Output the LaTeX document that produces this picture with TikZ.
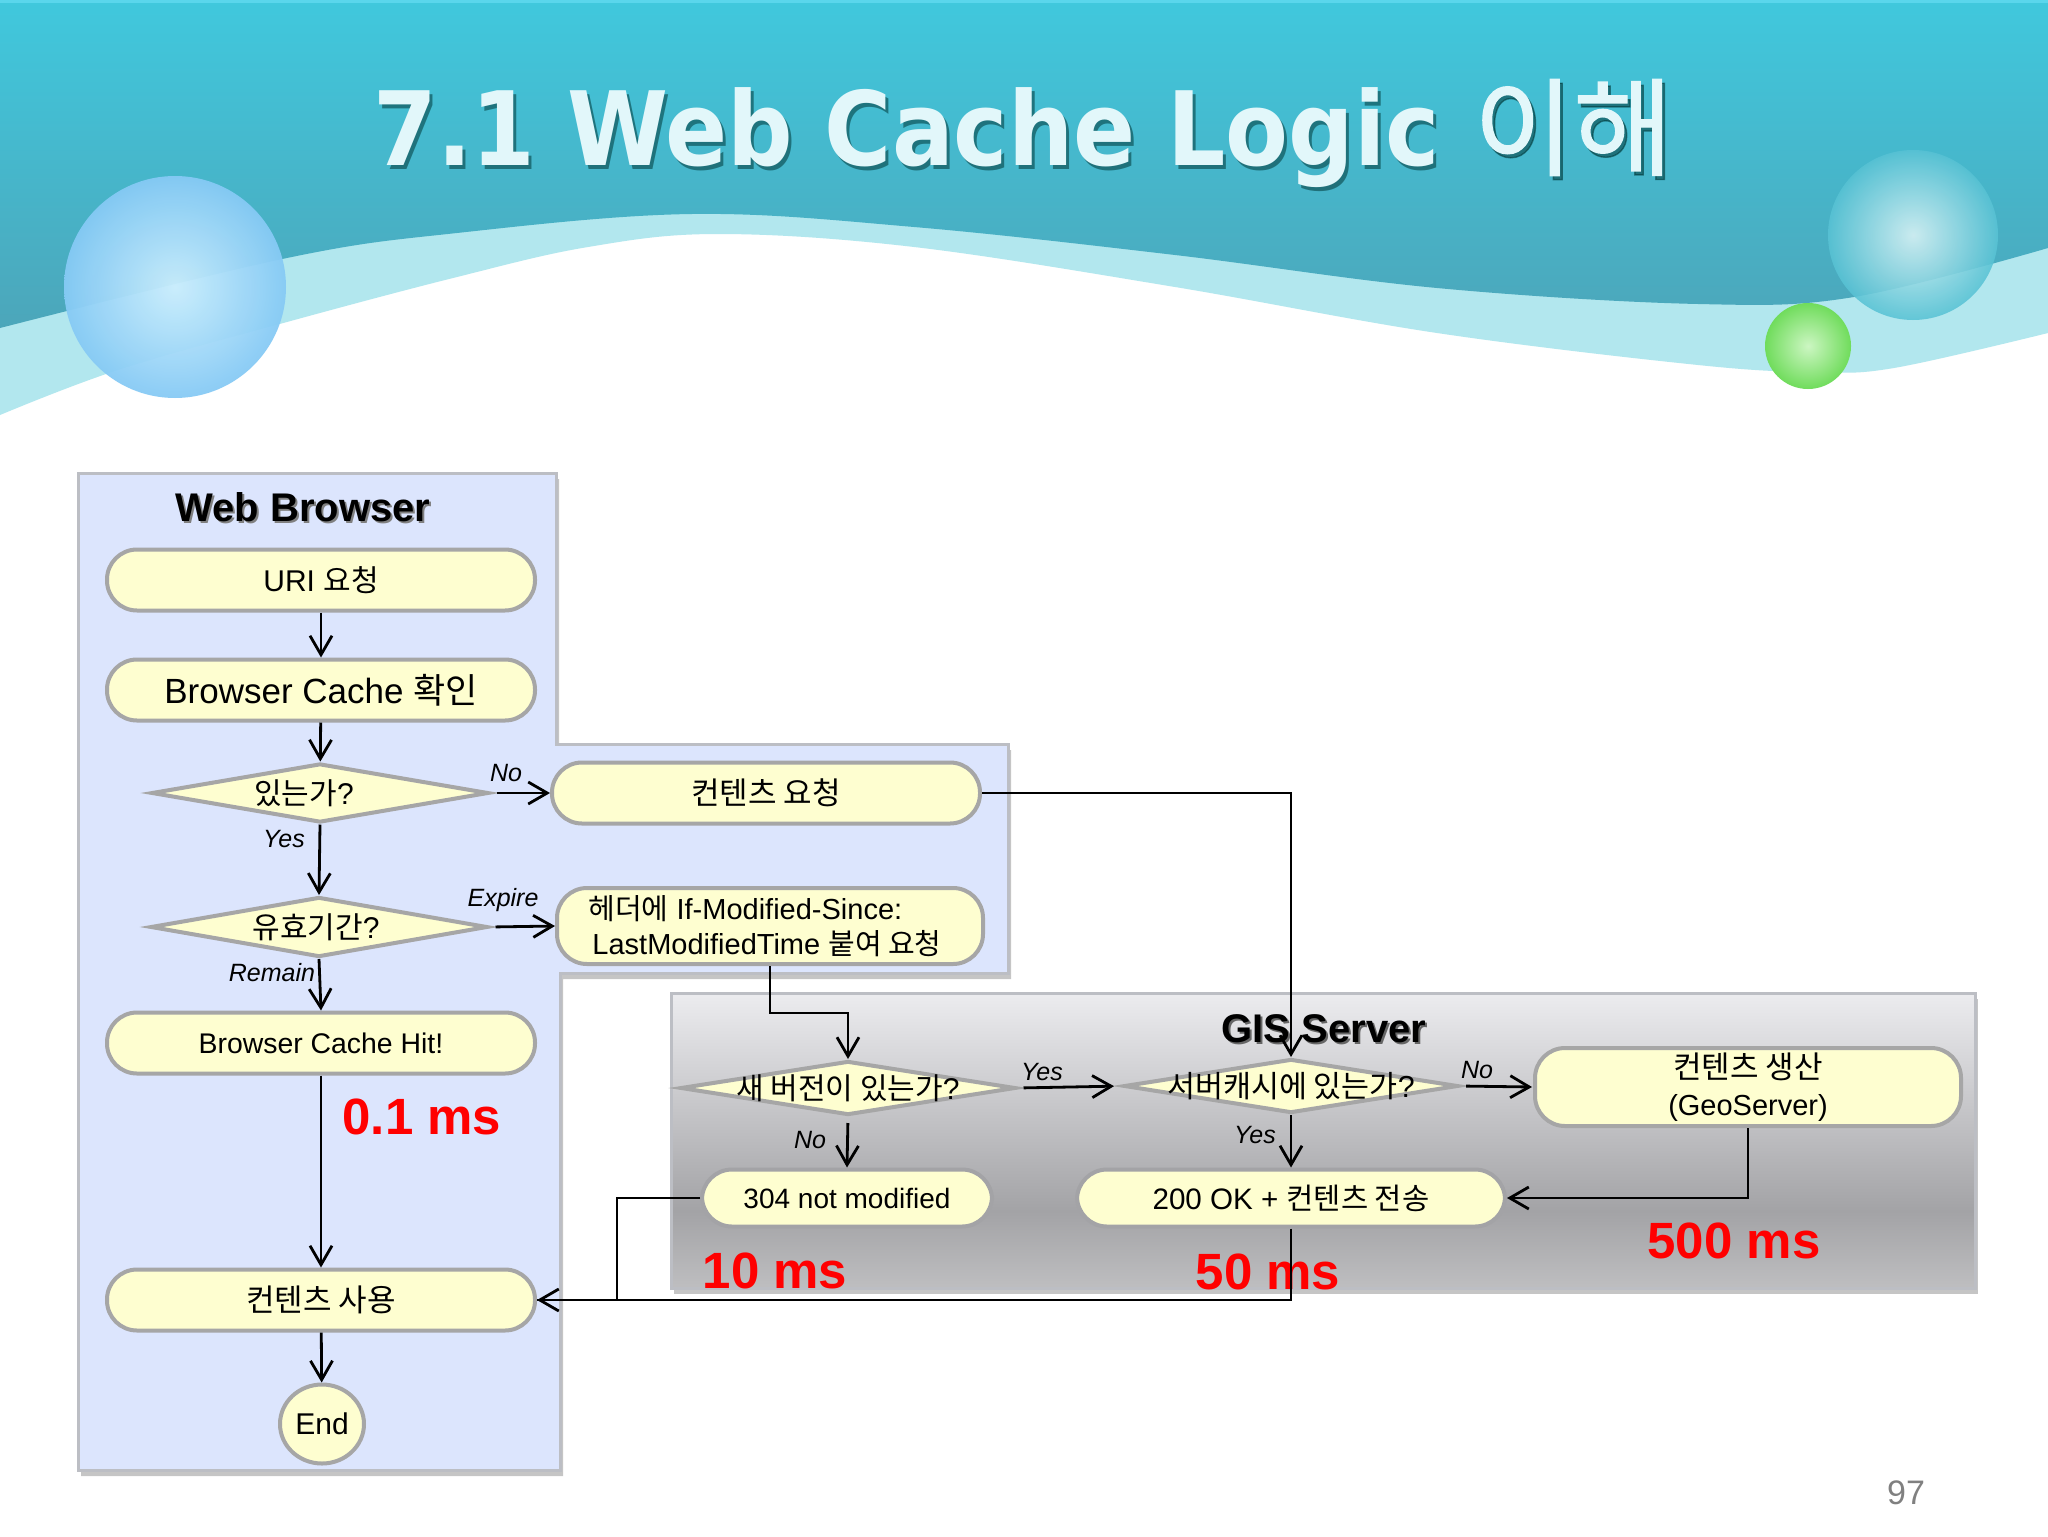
\documentclass[tikz,border=0pt]{standalone}
\usepackage{fontspec}
\usepackage{graphicx}
\setmainfont{Liberation Sans}
\newfontfamily\kr{Noto Sans CJK KR}
\newfontfamily\krtitle[FakeBold=1.3]{Noto Sans CJK KR}
\newfontfamily\titlefont{DejaVu Sans}
\usetikzlibrary{arrows.meta,shapes.geometric,shadows}
\newcommand{\fsz}[1]{\fontsize{#1}{#1}\selectfont}
\newcommand{\dtext}[2][0pt]{\makebox[0pt][c]{\hspace{#1}#2}}
\definecolor{gisB}{HTML}{BEBEC0}
\definecolor{gisM}{HTML}{A3A3A6}
\definecolor{gisT}{HTML}{ECECEF}
\definecolor{nodeY}{HTML}{FEFED0}
\definecolor{edgeG}{HTML}{A6A6A6}
\definecolor{panelB}{HTML}{DCE5FD}
\definecolor{panelE}{HTML}{BCBEC4}
\pgfdeclareverticalshading{gisshade}{100bp}{color(0bp)=(gisB); color(25bp)=(gisB); color(38bp)=(gisM); color(75bp)=(gisT); color(100bp)=(gisT)}
\tikzset{
  x=0.5pt,y=-0.5pt,
  pill/.style={draw=edgeG,fill=nodeY,line width=2pt,rounded corners=15pt,inner sep=0pt,align=center,font=\fsz{15}},
  dia/.style={diamond,aspect=6,draw=edgeG,fill=nodeY,line width=2pt,inner sep=0pt,font=\fsz{15}},
  flow/.style={draw=black,line width=1.4pt,-{Straight Barb[length=9.5pt,width=11pt,line width=1.4pt]}},
  wire/.style={draw=black,line width=1.4pt},
  tag/.style={font=\fsz{12.5}\itshape,inner sep=0pt},
  ms/.style={font=\fsz{25.5}\bfseries,text=red,inner sep=0pt,anchor=base},
  head/.style={font=\fsz{20}\bfseries,inner sep=0pt,anchor=base},
  panel/.style={line width=1.5pt,draw=panelE,drop shadow={shadow xshift=1.5pt,shadow yshift=-3pt,fill=gray,opacity=.45}}
}
\newcommand{\titletext}{\titlefont\bfseries\fsz{45.8}7.1 Web Cache Logic\hspace{17pt}\raisebox{-1pt}{\scalebox{1}[0.88]{\krtitle\mdseries\fsz{54}이해}}}
\begin{document}
\begin{tikzpicture}
\useasboundingbox (0,0) rectangle (2048,1536);
\fill[white] (0,0) rectangle (2048,1536);
% header waves
\fill[color={rgb,255:red,178;green,231;blue,238}] (0,0) -- (0,415) -- plot[smooth,tension=.6] coordinates {(0,415)(118,370)(287,322)(457,277)(588,247)(718,234)(914,247)(1175,287)(1437,333)(1698,365)(1815,372)(1894,368)(2048,333)} -- (2048,0) -- cycle;
\shade[top color={rgb,255:red,64;green,200;blue,221},bottom color={rgb,255:red,76;green,166;blue,186}] (0,0) -- (0,328) -- plot[smooth,tension=.6] coordinates {(0,328)(287,258)(457,233)(692,214)(914,227)(1175,255)(1437,288)(1698,304)(1854,297)(2048,248)} -- (2048,0) -- cycle;
\fill[color={rgb,255:red,90;green,214;blue,236}] (0,0) rectangle (2048,3);
% spheres
\shade[inner color={rgb,255:red,204;green,238;blue,253},outer color={rgb,255:red,134;green,202;blue,245},opacity=.95] (175,287) circle[radius=111];
\shade[inner color={rgb,255:red,220;green,243;blue,245},outer color={rgb,255:red,88;green,194;blue,212},opacity=.88] (1913,235) circle[radius=85];
\shade[inner color={rgb,255:red,204;green,246;blue,194},outer color={rgb,255:red,112;green,220;blue,92}] (1808,346) circle[radius=43];
% title
\node[anchor=base,inner sep=0pt,text=black!55!teal,opacity=.55,yscale=1.12,transform shape] (titleshadow) at (1026,169) {\titletext};
\node[anchor=base,inner sep=0pt,text={rgb,255:red,226;green,247;blue,250},yscale=1.12,transform shape] (title) at (1023,165) {\titletext};
% panels
\path[panel,fill=panelB] (78,473) -- (556,473) -- (556,744) -- (1008,744) -- (1008,973) -- (560,973) -- (560,1470) -- (78,1470) -- cycle;
\path[panel,shading=gisshade] (671,993) rectangle (1975,1288);
% headings
\node[head,text=gray] (wbs) at (305,523) {Web Browser};
\node[head] (wb) at (303,521) {Web Browser};
\node[head,text=black!60] (gss) at (1326,1044) {GIS Server};
\node[head] (gs) at (1324,1042) {GIS Server};
% nodes
\node[pill,minimum width=214pt,minimum height=30.5pt] (uri) at (321,580) {URI {\kr 요청}};
\node[pill,minimum width=214pt,minimum height=30.5pt,font=\fsz{17.5}] (bc) at (321,690) {Browser Cache {\kr 확인}};
\node[dia,minimum width=168.5pt,minimum height=29.5pt] (d1) at (320,793) {\dtext[-16pt]{{\kr 있는가}?}};
\node[pill,minimum width=214pt,minimum height=30.5pt,font=\fsz{15.5}] (req) at (766,793) {\kr 컨텐츠 요청};
\node[dia,minimum width=168.5pt,minimum height=30pt] (d2) at (319,927) {\dtext[-3pt]{{\kr 유효기간}?}};
\node[pill,minimum width=213pt,minimum height=38pt,align=left,font=\fsz{14.5}] (hdr) at (770,926) {{\kr 헤더에} If-Modified-Since:\\[3pt]\hspace{2pt}LastModifiedTime {\kr 붙여 요청}\hspace*{5pt}};
\node[pill,minimum width=214pt,minimum height=30.5pt,font=\fsz{14.2}] (hit) at (321,1043) {Browser Cache Hit!};
\node[pill,minimum width=214pt,minimum height=30.5pt,font=\fsz{15.5}] (use) at (321,1300) {\kr 컨텐츠 사용};
\node[ellipse,draw=edgeG,fill=nodeY,line width=2pt,inner sep=0pt,minimum width=42pt,minimum height=39.5pt,font=\fsz{15}] (end) at (322,1424) {End};
\node[dia,minimum width=167.5pt,minimum height=27pt,font=\fsz{15}] (d3) at (848,1088) {\dtext{{\kr 새 버전이 있는가}?}};
\node[dia,minimum width=167pt,minimum height=27pt,font=\fsz{15.2}] (srv) at (1291,1086) {\dtext{{\kr 서버캐시에 있는가}?}};
\node[pill,minimum width=213pt,minimum height=39pt,font=\fsz{14.5}] (gen) at (1748,1087) {\raisebox{-3pt}{\fsz{15.5}\kr 컨텐츠 생산}\\[4pt]\raisebox{-3pt}{(GeoServer)}};
\node[pill,minimum width=145pt,minimum height=28.5pt,font=\fsz{14},draw=gisM] (nm) at (847,1198) {304 not modified};
\node[pill,minimum width=214pt,minimum height=28.5pt,font=\fsz{14.8},draw=gisM] (ok) at (1291,1198) {200 OK + {\kr 컨텐츠 전송}};
% times
\node[ms] (t1) at (422,1134) {0.1 ms};
\node[ms] (t2) at (775,1288) {10 ms};
\node[ms] (t3) at (1268,1289) {50 ms};
\node[ms] (t4) at (1734,1258) {500 ms};
% connectors
\draw[flow] (uri) -- (bc);
\draw[flow] (bc) -- (d1);
\draw[flow] (d1.south) -- (d2.north);
\draw[flow] (d2.south) -- (hit.north);
\draw[flow] (hit) -- (use);
\draw[flow] (use) -- (end);
\draw[flow,shorten <=3pt] (d1.east) -- (req.west);
\draw[flow,shorten <=3pt] (d2.east) -- (hdr.west);
\draw[flow] (req.east) -| (srv.north);
\draw[flow] (hdr.south) -- ++(0,47) -| (d3.north);
\draw[flow,shorten <=3pt,shorten >=4pt] (d3.east) -- (srv.west);
\draw[flow,shorten <=3pt,shorten >=0.5pt] (srv.east) -- (gen.west);
\draw[flow,shorten <=3pt] (d3.south) -- (nm.north);
\draw[flow] (srv.south) -- (ok.north);
\draw[flow] (gen.south) |- (ok.east);
\draw[flow] (ok.south) |- (use.east);
\draw[wire] (nm.west) -- ++(-83,0) |- (use.east);
% labels
\node[tag] (lno1) at (506,773) {No};
\node[tag] (lyes1) at (284,839) {Yes};
\node[tag] (lexp) at (503,900) {Expire};
\node[tag] (lrem) at (272,973) {Remain};
\node[tag] (lyes2) at (1042,1072) {Yes};
\node[tag] (lno2) at (810,1140) {No};
\node[tag] (lno3) at (1477,1070) {No};
\node[tag] (lyes3) at (1255,1135) {Yes};
\node[font=\fsz{17},text=gray,inner sep=0pt] (page) at (1906,1493) {97};
\end{tikzpicture}
\end{document}
